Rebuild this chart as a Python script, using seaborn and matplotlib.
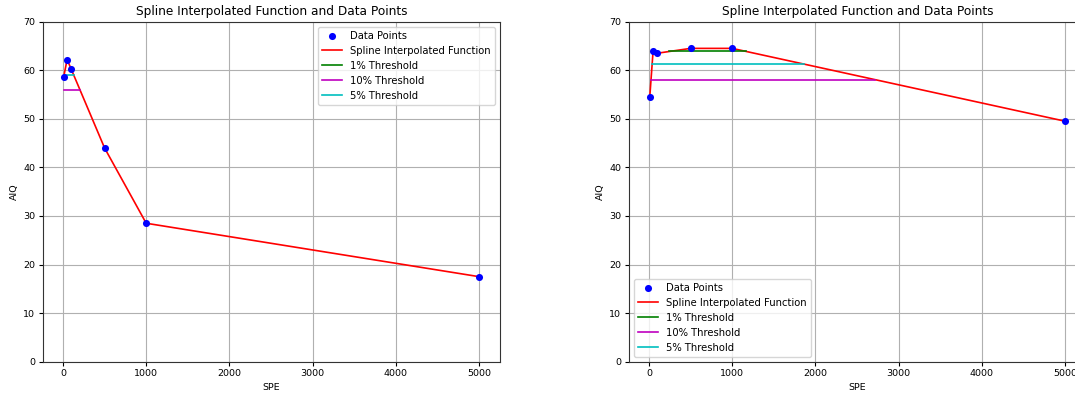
import numpy as np
import pandas as pd
import matplotlib
matplotlib.use("Agg")
import matplotlib.pyplot as plt
import seaborn as sns

# data
spe = [10, 50, 100, 500, 1000, 5000]
aiq_left = [58.7, 62.2, 60.2, 44.0, 28.5, 17.5]
aiq_right = [54.5, 64.0, 63.5, 64.5, 64.5, 49.5]

threshold_names = ['1% Threshold', '10% Threshold', '5% Threshold']
threshold_colors = ['g', 'm', 'c']

# threshold levels and x extents (start, end)
thr_left_y = [61.6, 56.0, 59.1]
thr_left_x = [(43, 65), (10, 204), (15, 127)]
thr_right_y = [63.9, 58.05, 61.3]
thr_right_x = [(240, 1170), (25, 2720), (38, 1860)]

plt.rcParams['font.size'] = 6.8
plt.rcParams['xtick.major.size'] = 2.8
plt.rcParams['ytick.major.size'] = 2.8
plt.rcParams['xtick.major.pad'] = 2.8
plt.rcParams['ytick.major.pad'] = 2.8
plt.rcParams['axes.edgecolor'] = '#333333'


def draw_panel(ax, y, thr_y, thr_x, legend_loc):
    df = pd.DataFrame({'SPE': spe, 'AIQ': y})
    sns.scatterplot(x='SPE', y='AIQ', data=df, ax=ax, color='b', s=26,
                    edgecolor='b', linewidth=0, label='Data Points', zorder=3)
    sns.lineplot(x='SPE', y='AIQ', data=df, ax=ax, color='r', linewidth=1.2,
                 label='Spline Interpolated Function', zorder=2)
    for name, col, ty, (x0, x1) in zip(threshold_names, threshold_colors, thr_y, thr_x):
        ax.plot([x0, x1], [ty, ty], color=col, linewidth=1.2, label=name)
    ax.set_ylim(0, 70)
    ax.set_xticks([0, 1000, 2000, 3000, 4000, 5000])
    ax.set_title('Spline Interpolated Function and Data Points', fontsize=8.7, pad=4.5)
    ax.set_xlabel('SPE', labelpad=3)
    ax.set_ylabel('AIQ', labelpad=3)
    ax.grid(True)
    ax.legend(loc=legend_loc, fontsize=7.2)


fig = plt.figure(figsize=(10.75, 3.94), dpi=100)
ax1 = fig.add_axes([43 / 1075, 0.082, 457 / 1075, 0.863])
ax2 = fig.add_axes([629 / 1075, 0.082, 457 / 1075, 0.863])

draw_panel(ax1, aiq_left, thr_left_y, thr_left_x, 'upper right')
draw_panel(ax2, aiq_right, thr_right_y, thr_right_x, 'lower left')

fig.savefig('out.png', dpi=100)
